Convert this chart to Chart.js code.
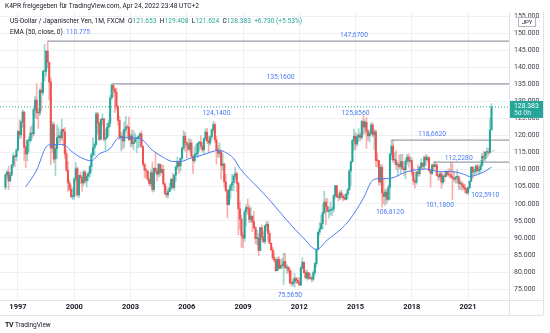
<!DOCTYPE html>
<html>
<head>
<meta charset="utf-8">
<title>USD/JPY 1M</title>
<script src="https://cdn.jsdelivr.net/npm/chart.js@4.4.1/dist/chart.umd.min.js"></script>
<style>
  html, body { margin: 0; padding: 0; background: #fff; }
  #wrap { position: relative; width: 550px; height: 333px; overflow: hidden; font-family: Roboto, "Liberation Sans", sans-serif; color: #131722; }
  #chart { position: absolute; left: 0; top: 0; }
  .hdr { position: absolute; white-space: nowrap; font-size: 6.6px; line-height: 9px; }
  .up { color: #26a69a; }
  .ema { color: #4c7cf0; }
  #logo { position: absolute; left: 5px; top: 321px; font-size: 6.5px; line-height: 9px; white-space: nowrap; }
  #logo b { font-size: 7px; letter-spacing: -0.5px; margin-right: 2px; }
</style>
</head>
<body>
<div id="wrap">
  <canvas id="chart" width="550" height="333"></canvas>
  <div class="hdr" style="left:5px;top:2px">K4PR freigegeben für TradingView.com, Apr 24, 2022 23:48 UTC+2</div>
  <div class="hdr" style="left:10px;top:17px">US-Dollar / Japanischer Yen, 1M, FXCM&nbsp; O<span class="up" id="vO"></span>&nbsp; H<span class="up" id="vH"></span>&nbsp; L<span class="up" id="vL"></span>&nbsp; C<span class="up" id="vC"></span>&nbsp; <span class="up" id="vChg"></span></div>
  <div class="hdr" style="left:10px;top:28px">EMA (50, close, 0)&nbsp; <span class="ema" id="vEma"></span></div>
  <div id="logo"><b>TV</b>TradingView</div>
</div>
<script>
// monthly candles, first one is May 1996; open = previous close
const firstMonth = '1996-05';
const firstOpen = 104.8;

const closes = [
  108.5, 109.3, 106.7, 108.4, 111.4, 114.0, 113.8, 115.8,
  121.2, 120.2, 124.0, 126.9, 116.5, 114.6, 118.5, 118.5, 120.7, 120.5, 127.6, 130.4,
  126.7, 126.6, 133.3, 132.6, 138.8, 138.8, 144.7, 141.4, 135.7, 116.3, 123.2, 113.1,
  116.2, 119.4, 119.9, 119.3, 121.8, 121.1, 114.6, 109.8, 106.1, 104.3, 102.1, 102.2,
  107.3, 110.3, 102.6, 108.3, 107.6, 106.1, 109.3, 106.7, 108.1, 108.9, 110.9, 114.4,
  116.4, 117.4, 126.3, 123.6, 118.9, 124.7, 124.9, 118.9, 119.4, 122.4, 123.6, 131.0,
  134.7, 133.6, 132.7, 128.5, 124.4, 119.5, 119.8, 118.4, 121.8, 122.5, 122.4, 118.8,
  119.9, 117.6, 118.1, 119.1, 119.3, 119.8, 120.5, 116.8, 111.5, 109.9, 109.6, 107.2,
  105.9, 109.1, 104.2, 110.4, 109.6, 108.7, 111.6, 109.2, 110.1, 105.8, 103.1, 102.6,
  103.6, 104.6, 107.2, 104.8, 108.4, 110.8, 112.4, 111.1, 113.3, 116.4, 119.8, 117.9,
  117.2, 116.0, 117.8, 113.9, 112.6, 114.4, 114.7, 117.7, 118.1, 116.9, 115.8, 119.1,
  121.0, 118.5, 117.8, 119.6, 121.7, 123.2, 118.7, 115.8, 114.8, 115.3, 111.2, 111.7,
  106.4, 103.8, 99.7, 104.0, 105.5, 106.2, 108.1, 108.8, 106.0, 98.5, 95.5, 90.7,
  89.9, 97.6, 98.9, 98.6, 95.4, 96.4, 94.7, 93.0, 89.8, 90.0, 86.3, 93.0,
  90.3, 88.9, 93.5, 94.0, 91.3, 88.4, 86.5, 84.2, 83.5, 80.4, 83.7, 81.1,
  82.0, 81.8, 83.1, 81.2, 81.5, 80.5, 76.8, 76.6, 77.1, 78.2, 77.6, 76.9,
  76.2, 81.2, 82.9, 79.8, 78.3, 79.8, 78.1, 78.3, 77.9, 79.8, 82.5, 86.7,
  91.7, 92.6, 94.2, 97.4, 100.5, 99.1, 97.8, 98.1, 98.2, 98.4, 102.4, 105.3,
  102.0, 101.8, 103.2, 102.2, 101.8, 101.3, 102.8, 104.1, 109.6, 112.3, 118.6, 119.8,
  117.5, 119.6, 120.1, 119.4, 124.1, 122.5, 123.9, 121.2, 119.9, 120.6, 123.1, 120.2,
  121.1, 112.7, 112.6, 106.4, 110.7, 103.2, 102.1, 103.4, 101.3, 104.8, 114.5, 116.9,
  112.8, 112.8, 111.4, 111.5, 110.8, 112.4, 110.3, 110.0, 112.5, 113.7, 112.5, 112.7,
  109.2, 106.7, 106.3, 109.3, 108.8, 110.7, 111.9, 111.0, 113.7, 112.9, 113.5, 109.7,
  108.9, 111.4, 110.9, 111.4, 108.3, 107.9, 108.8, 106.3, 108.1, 108.0, 109.5, 108.6,
  108.4, 107.9, 107.5, 107.2, 107.8, 107.9, 105.9, 105.9, 105.5, 104.7, 104.3, 103.2,
  104.7, 106.6, 110.7, 109.3, 109.6, 111.1, 109.7, 110.0, 111.3, 113.9, 113.2, 115.1,
  115.1, 115.0, 121.653, 128.383
];

const highs = [
  108.9, 109.7, 111.0, 109.2, 111.5, 114.9, 114.2, 116.1,
  121.5, 124.6, 124.3, 127.5, 127.0, 117.0, 118.8, 119.6, 122.5, 123.0, 128.0, 131.5,
  135.2, 127.9, 133.7, 135.5, 139.1, 146.7, 144.9, 147.67, 141.5, 136.9, 124.1, 123.8,
  117.1, 123.1, 122.3, 121.1, 124.8, 122.0, 122.3, 115.8, 112.4, 107.0, 105.5, 104.4,
  107.6, 112.1, 110.8, 108.4, 109.4, 108.0, 109.8, 109.7, 108.6, 109.4, 111.4, 114.9,
  119.4, 118.1, 126.8, 126.8, 124.0, 124.9, 126.4, 125.0, 121.9, 123.6, 124.6, 131.8,
  135.16, 134.8, 134.0, 133.8, 128.8, 125.6, 120.9, 121.4, 124.0, 125.6, 123.1, 125.4,
  120.5, 121.7, 121.4, 120.6, 119.5, 119.9, 120.8, 121.4, 117.0, 112.0, 110.4, 109.7,
  107.3, 109.9, 112.2, 110.5, 114.9, 110.3, 111.9, 111.7, 111.3, 111.3, 106.2, 105.0,
  104.3, 106.0, 107.4, 108.9, 108.6, 111.1, 113.7, 112.3, 113.5, 116.5, 121.4, 120.9,
  118.0, 119.0, 119.1, 118.7, 113.9, 116.7, 117.4, 117.8, 118.3, 119.9, 118.0, 119.4,
  121.9, 122.2, 119.7, 120.0, 121.9, 124.14, 123.7, 119.8, 117.0, 117.9, 115.7, 114.7,
  111.9, 108.7, 104.2, 104.7, 105.6, 108.6, 108.6, 110.7, 109.3, 106.5, 100.6, 96.7,
  91.8, 98.2, 99.7, 101.4, 99.6, 98.9, 96.2, 97.8, 93.3, 92.3, 91.3, 93.1,
  93.8, 91.9, 93.6, 94.8, 94.7, 92.0, 88.6, 87.3, 86.0, 83.9, 84.4, 84.5,
  83.7, 84.0, 85.5, 85.5, 82.2, 81.4, 81.1, 80.2, 77.9, 79.6, 78.3, 78.3,
  78.3, 81.7, 84.2, 82.6, 80.5, 80.6, 79.9, 79.6, 78.9, 80.4, 82.8, 86.8,
  91.8, 94.5, 96.7, 99.9, 103.7, 101.5, 101.5, 99.2, 100.6, 99.0, 102.6, 105.4,
  105.4, 103.0, 103.8, 104.1, 102.8, 102.8, 103.1, 104.5, 110.1, 112.5, 118.9, 121.9,
  120.8, 120.5, 122.0, 120.8, 124.5, 125.86, 124.6, 125.3, 121.8, 121.5, 123.8, 123.7,
  121.7, 121.7, 114.9, 112.7, 111.4, 111.5, 107.5, 104.3, 104.3, 105.5, 114.8, 118.66,
  118.6, 115.0, 115.5, 112.2, 114.4, 114.5, 114.5, 111.0, 113.3, 114.5, 114.7, 113.8,
  113.4, 110.5, 107.3, 109.6, 111.4, 111.0, 113.2, 112.2, 113.8, 114.5, 114.2, 113.7,
  110.0, 111.5, 112.1, 112.4, 111.7, 108.8, 109.3, 109.3, 108.5, 109.3, 109.7, 109.7,
  110.3, 112.2, 111.7, 109.4, 108.1, 109.9, 108.2, 107.0, 106.6, 106.1, 105.7, 104.7,
  104.9, 106.7, 110.9, 110.9, 110.2, 111.1, 111.7, 110.8, 112.1, 114.7, 115.5, 115.2,
  116.4, 116.3, 125.1, 129.408
];

const lows = [
  104.2, 107.6, 104.2, 106.5, 108.2, 110.6, 110.9, 112.6,
  115.5, 119.0, 119.2, 122.4, 112.7, 110.6, 112.6, 115.3, 118.0, 119.0, 119.8, 125.2,
  124.9, 122.1, 125.9, 127.3, 131.8, 136.0, 137.3, 139.9, 130.4, 111.4, 115.1, 112.0,
  108.2, 113.4, 117.8, 117.8, 118.6, 117.0, 113.3, 109.5, 103.6, 103.9, 101.8, 101.2,
  101.4, 106.4, 102.1, 101.8, 105.8, 103.6, 105.4, 106.0, 104.9, 106.9, 107.8, 109.2,
  113.8, 114.1, 117.0, 120.6, 118.5, 118.7, 123.1, 118.4, 115.8, 119.2, 119.8, 122.6,
  130.6, 131.4, 126.8, 127.6, 123.1, 118.9, 115.5, 116.0, 116.4, 121.0, 119.3, 118.5,
  116.8, 116.6, 115.8, 118.1, 115.0, 116.4, 116.6, 116.5, 111.0, 107.6, 107.5, 106.7,
  105.3, 105.1, 103.4, 103.6, 108.8, 106.7, 107.8, 108.2, 108.8, 105.5, 102.6, 101.8,
  101.7, 103.6, 103.9, 104.4, 104.0, 106.6, 110.0, 108.8, 109.6, 113.0, 115.8, 115.4,
  113.4, 115.5, 115.1, 113.4, 108.9, 112.0, 113.9, 113.6, 115.4, 116.0, 115.2, 114.4,
  118.4, 117.7, 115.2, 117.2, 118.9, 121.0, 118.0, 111.6, 113.6, 113.7, 107.2, 109.8,
  104.9, 103.5, 95.8, 100.1, 101.4, 103.8, 103.8, 107.3, 103.5, 90.9, 92.6, 87.2,
  87.1, 88.9, 93.5, 96.9, 94.5, 94.5, 91.8, 92.6, 88.2, 88.0, 84.8, 86.3,
  89.5, 88.5, 88.2, 92.0, 88.9, 88.3, 86.3, 83.6, 82.9, 80.2, 80.4, 80.9,
  81.0, 81.1, 76.3, 81.1, 79.6, 79.6, 76.6, 75.9, 75.9, 75.565, 76.6, 76.6,
  76.0, 76.1, 80.9, 79.7, 78.0, 77.6, 77.9, 77.9, 77.1, 77.4, 79.1, 81.7,
  86.5, 90.8, 92.6, 92.6, 97.0, 93.8, 97.6, 95.8, 96.6, 96.6, 97.6, 101.6,
  101.8, 100.8, 101.2, 101.4, 100.8, 101.1, 101.1, 101.5, 104.0, 105.2, 112.3, 115.6,
  115.9, 116.9, 118.3, 118.5, 118.9, 120.4, 120.4, 116.2, 118.6, 118.1, 120.4, 119.6,
  115.9, 110.9, 110.7, 105.5, 105.5, 99.0, 100.0, 99.5, 100.1, 100.9, 101.2, 112.9,
  112.1, 111.6, 110.1, 108.1, 110.2, 108.8, 109.9, 108.3, 107.3, 111.7, 110.8, 111.9,
  108.3, 105.6, 104.6, 105.7, 108.1, 108.1, 110.3, 109.8, 110.4, 111.4, 112.3, 109.6,
  104.9, 108.5, 109.7, 110.8, 108.2, 106.8, 107.2, 104.5, 105.7, 106.5, 107.9, 108.4,
  107.7, 107.5, 101.18, 106.4, 105.99, 106.1, 104.2, 104.2, 104.0, 104.0, 103.2, 102.9,
  102.59, 104.4, 106.4, 107.5, 108.3, 108.6, 109.1, 108.7, 109.1, 110.8, 112.5, 112.6,
  113.5, 114.2, 114.7, 121.624
];

// EMA(50)
const emaMonths = ['1997-06', '1998-01', '1998-07', '1998-10', '1999-03', '1999-07', '1999-11', '2000-05', '2000-12',
  '2001-05', '2001-12', '2002-04', '2002-07', '2003-07', '2004-03', '2004-10', '2005-04', '2005-09', '2006-03',
  '2006-11', '2007-10', '2008-02', '2008-07', '2008-11', '2009-10', '2010-06', '2011-05', '2012-04', '2012-12',
  '2013-07', '2014-03', '2014-09', '2015-06', '2015-12', '2016-05', '2016-10', '2017-10', '2018-10', '2019-07',
  '2020-01', '2020-10', '2021-02', '2021-09', '2022-01', '2022-04'];
const emaValues = [105.0, 109.9, 116.7, 117.3, 117.4, 117.2, 115.5, 113.6, 112.6,
  114.6, 116.2, 118.8, 119.4, 119.1, 115.7, 113.6, 112.4, 112.4, 113.3,
  114.3, 115.7, 115.0, 113.3, 110.4, 105.0, 101.1, 95.2, 89.8, 86.6,
  89.4, 92.3, 95.2, 101.6, 106.9, 107.4, 107.4, 109.4, 110.2, 109.4,
  109.5, 108.7, 108.0, 108.9, 109.8, 110.775];

// horizontal rays
const levelPrices = [147.67, 135.16, 118.662, 112.228];
const levelFrom = ['1998-08', '2002-01', '2016-12', '2019-03'];

// price notes
const noteTexts = ['147,6700', '135,1600', '124,1400', '125,8560', '75,5650', '106,8120', '118,6620', '112,2280', '101,1800', '102,5910'];
const noteMonths = ['2014-12', '2011-01', '2007-08', '2015-01', '2011-07', '2016-11', '2019-02', '2020-07', '2019-07', '2021-12'];
const notePrices = [149.4, 137.1, 126.6, 126.6, 73.2, 97.6, 120.4, 113.4, 99.6, 102.5];

// short trend line
const trendMonths = ['2021-08', '2022-06'];
const trendPrices = [112.3, 115.9];

const yearTicks = [1997, 2000, 2003, 2006, 2009, 2012, 2015, 2018, 2021];

const UP = '#26a69a';
const DOWN = '#ef5350';
const BLUE = '#4c7cf0';

function monthIdx(s) {
  const [yy, mm] = s.split('-').map(Number);
  return (yy - 1997) * 12 + (mm - 1);
}

const startIdx = monthIdx(firstMonth);
const opens = closes.map((c, i) => i === 0 ? firstOpen : closes[i - 1]);
const isUp = closes.map((c, i) => c >= opens[i]);
const last = closes.length - 1;
const xMin = -11.5, xMax = 314.2;

// header values from the data
document.getElementById('vO').textContent = opens[last].toFixed(3);
document.getElementById('vH').textContent = highs[last].toFixed(3);
document.getElementById('vL').textContent = lows[last].toFixed(3);
document.getElementById('vC').textContent = closes[last].toFixed(3);
const chg = closes[last] - opens[last];
document.getElementById('vChg').textContent = '+' + chg.toFixed(3) + ' (+' + (chg / opens[last] * 100).toFixed(2) + '%)';
document.getElementById('vEma').textContent = emaValues[emaValues.length - 1].toFixed(3);

const wickData = highs.map((h, i) => ({ x: startIdx + i, y: [lows[i], h] }));
const bodyData = closes.map((c, i) => ({ x: startIdx + i, y: [opens[i], c] }));
const emaData = emaMonths.map((m, i) => ({ x: monthIdx(m), y: emaValues[i] }));

const levelSets = levelPrices.map((p, i) => ({
  type: 'line',
  data: [{ x: monthIdx(levelFrom[i]), y: p }, { x: xMax, y: p }],
  borderColor: '#9b9ea7',
  borderWidth: 1.3,
  pointRadius: 0,
  order: 6
}));

const overlay = {
  id: 'overlay',
  afterDatasetsDraw(chart) {
    const { ctx, scales: { x, y } } = chart;
    ctx.save();
    ctx.font = '6.8px Roboto';
    ctx.fillStyle = BLUE;
    ctx.textAlign = 'center';
    ctx.textBaseline = 'middle';
    noteTexts.forEach((t, i) => {
      ctx.fillText(t, x.getPixelForValue(monthIdx(noteMonths[i])), y.getPixelForValue(notePrices[i]));
    });
    ctx.restore();
  },
  afterDraw(chart) {
    const { ctx, chartArea, scales: { y } } = chart;
    const axisRight = chartArea.right + 34;
    ctx.save();
    // frame
    ctx.strokeStyle = '#e0e3eb';
    ctx.lineWidth = 1;
    ctx.beginPath();
    ctx.moveTo(0, chartArea.bottom + 0.5); ctx.lineTo(axisRight, chartArea.bottom + 0.5);
    ctx.moveTo(0, chartArea.bottom + 15.5); ctx.lineTo(axisRight, chartArea.bottom + 15.5);
    ctx.moveTo(chartArea.right + 0.5, chartArea.top); ctx.lineTo(chartArea.right + 0.5, chartArea.bottom + 15);
    ctx.moveTo(axisRight + 0.5, chartArea.top); ctx.lineTo(axisRight + 0.5, chartArea.bottom + 15);
    ctx.stroke();

    // last price badge
    const py = y.getPixelForValue(closes[last]);
    ctx.fillStyle = UP;
    ctx.fillRect(chartArea.right + 1, py - 6, 33, 17);
    ctx.fillStyle = '#fff';
    ctx.font = '6.8px Roboto';
    ctx.textBaseline = 'middle';
    ctx.textAlign = 'left';
    ctx.fillText(closes[last].toFixed(3), chartArea.right + 5, py - 0.5);
    ctx.fillStyle = 'rgba(255,255,255,0.85)';
    ctx.fillText('5d 0h', chartArea.right + 5, py + 6.5);

    // currency badge
    ctx.fillStyle = '#fff';
    ctx.strokeStyle = '#b2b5be';
    ctx.fillRect(chartArea.right + 9.5, 17.5, 17, 9);
    ctx.strokeRect(chartArea.right + 9.5, 17.5, 17, 9);
    ctx.fillStyle = '#131722';
    ctx.font = '6px Roboto';
    ctx.textAlign = 'center';
    ctx.fillText('JPY', chartArea.right + 18, 22.3);
    ctx.restore();
  }
};

Chart.defaults.font.family = 'Roboto';

new Chart(document.getElementById('chart'), {
  type: 'bar',
  data: {
    datasets: [
      {
        type: 'line',
        data: trendMonths.map((m, i) => ({ x: monthIdx(m), y: trendPrices[i] })),
        borderColor: '#9ed39a',
        borderWidth: 1,
        pointRadius: 0,
        order: 1
      },
      {
        type: 'line',
        data: emaData,
        borderColor: BLUE,
        borderWidth: 1,
        pointRadius: 0,
        cubicInterpolationMode: 'monotone',
        order: 2
      },
      {
        type: 'bar',
        data: bodyData,
        backgroundColor: isUp.map(u => u ? UP : DOWN),
        barThickness: 1.4,
        minBarLength: 0.8,
        grouped: false,
        order: 3
      },
      {
        type: 'bar',
        data: wickData,
        backgroundColor: isUp.map(u => u ? 'rgba(38,166,154,0.45)' : 'rgba(239,83,80,0.45)'),
        barThickness: 1,
        grouped: false,
        order: 4
      },
      {
        type: 'line',
        data: [{ x: xMin, y: closes[last] }, { x: xMax, y: closes[last] }],
        borderColor: UP,
        borderWidth: 1,
        borderDash: [1, 2],
        pointRadius: 0,
        order: 5
      },
      ...levelSets
    ]
  },
  options: {
    responsive: false,
    animation: false,
    devicePixelRatio: 1,
    layout: { padding: { top: 12, left: 0, right: 7, bottom: 18 } },
    plugins: { legend: { display: false }, tooltip: { enabled: false } },
    scales: {
      x: {
        type: 'linear',
        min: xMin,
        max: xMax,
        offset: false,
        afterBuildTicks: scale => { scale.ticks = yearTicks.map(yr => ({ value: (yr - 1997) * 12 })); },
        afterFit: scale => { scale.height = 15; },
        ticks: {
          callback: v => String(1997 + v / 12),
          font: { size: 7.5, weight: 'bold' },
          color: '#131722',
          padding: 3,
          maxRotation: 0,
          autoSkip: false
        },
        grid: { color: '#eef0f4', drawTicks: false, offset: false },
        border: { display: false }
      },
      y: {
        type: 'linear',
        position: 'right',
        min: 71.8,
        max: 156.2,
        beginAtZero: false,
        afterFit: scale => { scale.width = 34; },
        ticks: {
          stepSize: 5,
          includeBounds: false,
          callback: v => v.toFixed(3),
          font: { size: 7 },
          color: '#3b3f4a',
          padding: 5
        },
        grid: { color: '#eef0f4', drawTicks: false },
        border: { display: false }
      }
    }
  },
  plugins: [overlay]
});
</script>
</body>
</html>
